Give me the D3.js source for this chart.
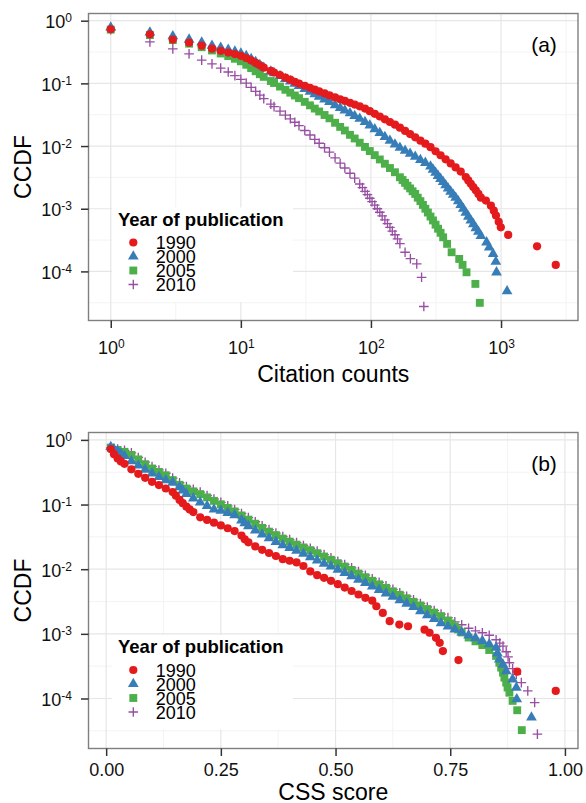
<!DOCTYPE html>
<html>
<head>
<meta charset="utf-8">
<title>CCDF of citation counts and CSS score</title>
<script src="https://d3js.org/d3.v7.min.js"></script>
<style>
  body, html { margin: 0; padding: 0; background: #fff; }
  svg { display: block; font-family: "Liberation Sans", Arial, Helvetica, sans-serif; }
</style>
</head>
<body>
<svg width="586" height="803"></svg>
<script>
const years = ["1990", "2000", "2005", "2010"];
const colors = ["#E41A1C", "#377EB8", "#4DAF4A", "#984EA3"];

// (a) citation counts -> CCDF
const citeRed = [[1,0.73],[2,0.605],[3,0.50],[4,0.445],[5,0.40],[6,0.357],[7,0.33],[8,0.31],[9,0.293],[10,0.275],[11,0.254],[12,0.232],[13,0.212],[14,0.194],[15,0.178],[17,0.158],[18,0.149],[20,0.136],[22,0.124],[24,0.1145],[26,0.106],[28,0.0993],[31,0.0916],[34,0.0851],[37,0.0794],[40,0.0745],[44,0.069],[48,0.0641],[53,0.0596],[58,0.0557],[63,0.0524],[69,0.0489],[75,0.0459],[82,0.043],[90,0.0396],[98,0.036],[107,0.0327],[117,0.0296],[128,0.0267],[140,0.0242],[153,0.0219],[167,0.0196],[183,0.0174],[200,0.0155],[219,0.0138],[240,0.0122],[262,0.0109],[287,0.0096],[314,0.00826],[343,0.00713],[375,0.00614],[410,0.00528],[448,0.00456],[490,0.00391],[536,0.0032],[560,0.00283],[586,0.0025],[612,0.00222],[640,0.00197],[670,0.00172],[700,0.0015],[765,0.00135],[836,0.00112],[880,0.00093],[914,0.00078],[960,0.00062],[996,0.000505],[1135,0.000382],[1892,0.000251],[2634,0.000127]];
const citeBlue = [[1,0.78],[2,0.65],[3,0.565],[4,0.50],[5,0.45],[6,0.40],[7,0.37],[8,0.345],[9,0.322],[10,0.30],[11,0.275],[12,0.245],[13,0.22],[14,0.197],[15,0.178],[17,0.155],[18,0.146],[20,0.131],[22,0.118],[24,0.108],[26,0.0989],[28,0.0912],[31,0.0817],[34,0.0738],[37,0.0673],[40,0.0616],[44,0.0556],[48,0.0504],[53,0.0449],[58,0.0405],[63,0.037],[69,0.0334],[75,0.0303],[82,0.0273],[90,0.0243],[98,0.0213],[107,0.0186],[117,0.0162],[128,0.014],[140,0.0122],[153,0.0106],[167,0.00942],[183,0.00845],[200,0.00757],[219,0.00675],[240,0.00602],[262,0.0054],[287,0.00474],[300,0.00422],[314,0.00375],[328,0.00335],[343,0.003],[359,0.00267],[375,0.00237],[392,0.00211],[410,0.00188],[429,0.00168],[448,0.0015],[469,0.00132],[490,0.00115],[513,0.001],[536,0.000867],[561,0.00075],[586,0.00065],[613,0.00057],[640,0.000492],[670,0.00043],[700,0.000367],[774,0.000291],[811,0.000242],[869,0.00019],[912,0.000143],[923,0.0000968],[1113,0.0000482]];
const citeGreen = [[1,0.72],[2,0.59],[3,0.49],[4,0.43],[5,0.378],[6,0.335],[7,0.30],[8,0.272],[9,0.247],[10,0.225],[11,0.198],[12,0.175],[13,0.156],[14,0.14],[15,0.127],[17,0.109],[18,0.1014],[20,0.0889],[22,0.079],[24,0.0711],[26,0.0641],[28,0.0581],[31,0.0507],[34,0.0446],[37,0.0396],[40,0.0356],[44,0.0313],[48,0.0277],[53,0.0235],[58,0.0202],[63,0.0177],[69,0.0151],[75,0.0132],[82,0.0113],[90,0.00968],[98,0.00832],[107,0.00716],[117,0.00611],[128,0.00522],[140,0.00446],[153,0.00382],[167,0.00318],[175,0.00287],[183,0.00259],[191,0.00233],[200,0.00211],[209,0.0019],[219,0.00172],[229,0.0015],[240,0.00132],[251,0.00115],[262,0.001],[274,0.00087],[287,0.00075],[300,0.00065],[314,0.000557],[328,0.00048],[343,0.000413],[359,0.00035],[385,0.000275],[417,0.000202],[477,0.000158],[506,0.000127],[543,0.0000968],[635,0.0000632],[687,0.0000315]];
const citePurple = [[1,0.72],[2,0.46],[3,0.355],[4,0.295],[5,0.235],[6,0.205],[7,0.175],[8,0.152],[9,0.133],[10,0.116],[11,0.101],[12,0.0865],[13,0.0745],[14,0.065],[15,0.057],[17,0.0466],[18,0.0425],[20,0.0361],[22,0.0312],[24,0.0272],[26,0.024],[28,0.0212],[31,0.0177],[34,0.015],[37,0.0128],[40,0.0111],[44,0.0094],[48,0.008],[53,0.00649],[58,0.00533],[63,0.00447],[69,0.00368],[75,0.00308],[82,0.00248],[86,0.00217],[90,0.00189],[94,0.00168],[98,0.00147],[102,0.0013],[107,0.00114],[112,0.001],[117,0.000877],[122,0.00077],[128,0.000663],[134,0.00058],[140,0.000503],[146,0.00044],[153,0.000384],[160,0.00033],[167,0.000277],[183,0.000202],[201,0.00016],[225,0.000132],[245,0.0000805],[255,0.0000275]];

// (b) CSS score -> CCDF
const cssRed = [[0.010,0.72],[0.017,0.6],[0.025,0.517],[0.032,0.465],[0.040,0.427],[0.055,0.35],[0.070,0.299],[0.085,0.259],[0.100,0.225],[0.115,0.2],[0.130,0.177],[0.145,0.156],[0.152,0.137],[0.160,0.118],[0.167,0.105],[0.175,0.0929],[0.182,0.084],[0.190,0.0764],[0.205,0.0635],[0.220,0.0577],[0.235,0.0525],[0.250,0.0475],[0.265,0.043],[0.280,0.0388],[0.295,0.0332],[0.302,0.029],[0.310,0.026],[0.325,0.0225],[0.340,0.0199],[0.355,0.0178],[0.370,0.016],[0.385,0.0143],[0.400,0.0135],[0.415,0.0127],[0.430,0.0112],[0.445,0.00923],[0.460,0.00809],[0.475,0.00735],[0.490,0.00662],[0.505,0.00587],[0.520,0.0052],[0.535,0.0046],[0.550,0.00406],[0.565,0.00361],[0.580,0.00326],[0.589,0.00267],[0.603,0.00211],[0.618,0.00157],[0.639,0.00139],[0.658,0.00131],[0.694,0.00116],[0.705,0.00104],[0.719,0.000867],[0.727,0.000726],[0.734,0.000541],[0.768,0.000393],[0.896,0.00026],[0.980,0.000131]];
const cssBlue = [[0.010,0.78],[0.017,0.72],[0.025,0.672],[0.032,0.615],[0.040,0.563],[0.055,0.47],[0.070,0.402],[0.085,0.348],[0.100,0.303],[0.115,0.268],[0.130,0.238],[0.145,0.219],[0.160,0.186],[0.167,0.165],[0.175,0.146],[0.190,0.125],[0.205,0.108],[0.220,0.0955],[0.235,0.0843],[0.250,0.0802],[0.265,0.0745],[0.280,0.0684],[0.295,0.0571],[0.302,0.0515],[0.310,0.0465],[0.325,0.0397],[0.340,0.0344],[0.355,0.0301],[0.370,0.0265],[0.385,0.0235],[0.400,0.0214],[0.415,0.0194],[0.430,0.0174],[0.445,0.0154],[0.460,0.0137],[0.475,0.0122],[0.490,0.011],[0.505,0.0098],[0.520,0.0088],[0.535,0.00783],[0.550,0.00692],[0.565,0.00612],[0.580,0.00543],[0.595,0.0048],[0.610,0.00424],[0.625,0.00376],[0.640,0.00332],[0.655,0.00294],[0.670,0.0026],[0.685,0.00225],[0.700,0.00195],[0.715,0.0017],[0.730,0.00147],[0.745,0.0013],[0.760,0.00117],[0.775,0.00105],[0.790,0.00095],[0.805,0.00086],[0.820,0.00078],[0.835,0.00069],[0.850,0.00061],[0.853,0.0005],[0.857,0.000402],[0.865,0.000333],[0.872,0.000266],[0.886,0.000198],[0.894,0.000147],[0.895,0.0000973],[0.927,0.0000508]];
const cssGreen = [[0.010,0.76],[0.025,0.70],[0.040,0.653],[0.055,0.585],[0.070,0.499],[0.085,0.421],[0.100,0.361],[0.115,0.32],[0.130,0.284],[0.145,0.239],[0.160,0.202],[0.175,0.177],[0.190,0.16],[0.205,0.145],[0.220,0.129],[0.235,0.114],[0.250,0.101],[0.265,0.0889],[0.280,0.0783],[0.295,0.0678],[0.310,0.0585],[0.325,0.0505],[0.340,0.0436],[0.355,0.0381],[0.370,0.0337],[0.385,0.0298],[0.400,0.0267],[0.415,0.024],[0.430,0.0217],[0.445,0.0197],[0.460,0.0177],[0.475,0.0157],[0.490,0.014],[0.505,0.0124],[0.520,0.011],[0.535,0.00975],[0.550,0.00855],[0.565,0.00753],[0.580,0.00662],[0.595,0.00583],[0.610,0.00515],[0.625,0.00455],[0.640,0.00402],[0.655,0.00355],[0.670,0.00313],[0.685,0.00275],[0.700,0.00242],[0.715,0.00213],[0.730,0.00188],[0.745,0.00161],[0.752,0.00145],[0.760,0.0013],[0.767,0.00117],[0.775,0.00105],[0.790,0.000877],[0.805,0.000766],[0.820,0.000671],[0.835,0.000562],[0.850,0.000455],[0.857,0.000357],[0.861,0.0003],[0.865,0.000251],[0.868,0.00021],[0.872,0.000176],[0.875,0.000148],[0.879,0.000123],[0.886,0.0000918],[0.896,0.0000658],[0.906,0.0000324]];
const cssPurple = [[0.010,0.75],[0.025,0.72],[0.040,0.69],[0.055,0.63],[0.070,0.535],[0.085,0.452],[0.100,0.387],[0.115,0.343],[0.130,0.305],[0.145,0.256],[0.160,0.217],[0.175,0.19],[0.190,0.172],[0.205,0.156],[0.220,0.138],[0.235,0.122],[0.250,0.108],[0.265,0.0954],[0.280,0.084],[0.295,0.0727],[0.310,0.0628],[0.325,0.0542],[0.340,0.0468],[0.355,0.0409],[0.370,0.0362],[0.385,0.032],[0.400,0.0287],[0.415,0.0258],[0.430,0.0233],[0.445,0.0211],[0.460,0.019],[0.475,0.0168],[0.490,0.015],[0.505,0.0133],[0.520,0.0118],[0.535,0.0105],[0.550,0.00917],[0.565,0.00808],[0.580,0.0071],[0.595,0.00626],[0.610,0.00553],[0.625,0.00488],[0.640,0.00431],[0.655,0.00381],[0.670,0.00336],[0.685,0.00295],[0.700,0.0026],[0.715,0.00229],[0.730,0.00202],[0.745,0.00178],[0.760,0.00153],[0.775,0.00138],[0.790,0.00122],[0.805,0.00111],[0.820,0.00104],[0.835,0.00095],[0.850,0.00081],[0.858,0.00072],[0.865,0.000646],[0.872,0.000528],[0.876,0.00044],[0.879,0.000357],[0.886,0.000289],[0.894,0.000236],[0.905,0.000176],[0.919,0.000131],[0.934,0.0000865],[0.940,0.0000281]];

// ticks
const citeTicks = [1, 10, 100, 1000];
const citeMinor = [3.162, 31.62, 316.2, 3162];
const ccdfTicks = [1, 0.1, 0.01, 0.001, 0.0001];
const ccdfMinor = [0.3162, 0.03162, 0.003162, 0.0003162, 0.00003162];
const cssTicks = [0, 0.25, 0.5, 0.75, 1];
const cssMinor = [0.125, 0.375, 0.625, 0.875];

const FONT = '"Liberation Sans", Arial, Helvetica, sans-serif';
const svg = d3.select("svg");

function markerPath(i) {
    if (i === 3) return "M-4.8,0H4.8M0,-4.8V4.8";
    const type = [d3.symbolCircle, d3.symbolTriangle, d3.symbolSquare][i];
    return d3.symbol().type(type).size([53, 50, 62][i])();
}

function styleMarker(sel, i) {
    if (i === 3) sel.attr("fill", "none").attr("stroke", colors[i]).attr("stroke-width", 1.35);
    else sel.attr("fill", colors[i]);
}

// 10 with a raised exponent
function powLabel(sel, d) {
    sel.text(null);
    sel.append("tspan").text("10");
    sel.append("tspan").attr("font-size", 12).attr("dy", -6).text(Math.round(Math.log10(d)));
}

function logDomain(vals) {
    const lo = Math.log10(d3.min(vals)), hi = Math.log10(d3.max(vals));
    const pad = (hi - lo) * 0.05;
    return [Math.pow(10, lo - pad), Math.pow(10, hi + pad)];
}

function drawPanel(p) {
    const {l, r, t, b} = p.box;
    const all = p.series.flat();
    const x = p.xLog
        ? d3.scaleLog().domain(logDomain(all.map(d => d[0]))).range([l, r])
        : (() => {
            const [lo, hi] = d3.extent(all, d => d[0]);
            const pad = (hi - lo) * 0.05;
            return d3.scaleLinear().domain([lo - pad, hi + pad]).range([l, r]);
        })();
    const y = d3.scaleLog().domain(logDomain(all.map(d => d[1]))).range([b, t]);

    const g = svg.append("g");

    // grid
    const grid = g.append("g");
    grid.selectAll(".xm").data(p.xMinor).join("line")
        .attr("x1", d => x(d)).attr("x2", d => x(d)).attr("y1", t).attr("y2", b)
        .attr("stroke", "#f3f3f3").attr("stroke-width", 1);
    grid.selectAll(".ym").data(ccdfMinor).join("line")
        .attr("y1", d => y(d)).attr("y2", d => y(d)).attr("x1", l).attr("x2", r)
        .attr("stroke", "#f3f3f3").attr("stroke-width", 1);
    grid.selectAll(".xM").data(p.xTicks).join("line")
        .attr("x1", d => x(d)).attr("x2", d => x(d)).attr("y1", t).attr("y2", b)
        .attr("stroke", "#e6e6e6").attr("stroke-width", 1.2);
    grid.selectAll(".yM").data(ccdfTicks).join("line")
        .attr("y1", d => y(d)).attr("y2", d => y(d)).attr("x1", l).attr("x2", r)
        .attr("stroke", "#e6e6e6").attr("stroke-width", 1.2);

    // points, 2010 first so 1990 ends up on top
    for (let i = 3; i >= 0; i--) {
        const path = markerPath(i);
        g.append("g").selectAll("path").data(p.series[i]).join("path")
            .attr("transform", d => `translate(${x(d[0])},${y(d[1])})`)
            .attr("d", path)
            .call(styleMarker, i);
    }

    // legend
    const ly = p.legendY;
    const lg = g.append("g");
    lg.append("rect").attr("x", 112).attr("y", ly - 18).attr("width", 181).attr("height", 94.5).attr("fill", "#fff");
    lg.append("text").attr("x", 118).attr("y", ly)
        .attr("font-weight", "bold").attr("font-size", 18.5).text("Year of publication");
    const rows = [17, 31, 45, 59];
    years.forEach((yr, i) => {
        lg.append("path").attr("transform", `translate(133.3,${ly + rows[i]})`)
            .attr("d", markerPath(i)).call(styleMarker, i);
        lg.append("text").attr("x", 155.7).attr("y", ly + rows[i] + 6.5)
            .attr("font-size", 18).text(yr);
    });

    // border
    g.append("rect").attr("x", l).attr("y", t).attr("width", r - l).attr("height", b - t)
        .attr("fill", "none").attr("stroke", "#7f7f7f").attr("stroke-width", 1.4);

    // axes
    const ya = g.append("g").attr("transform", `translate(${l},0)`)
        .call(d3.axisLeft(y).tickValues(ccdfTicks).tickSize(7.5).tickPadding(9));
    ya.select(".domain").remove();
    ya.attr("font-family", FONT).attr("font-size", 18).attr("color", "#333");
    ya.selectAll(".tick line").attr("stroke-width", 1.5);
    ya.selectAll(".tick text").attr("fill", "#111").attr("dy", 7).each(function(d) { powLabel(d3.select(this), d); });

    const xa = g.append("g").attr("transform", `translate(0,${b})`)
        .call(d3.axisBottom(x).tickValues(p.xTicks).tickSize(7.5));
    xa.select(".domain").remove();
    xa.attr("font-family", FONT).attr("font-size", 18).attr("color", "#333");
    xa.selectAll(".tick line").attr("stroke-width", 1.5);
    xa.selectAll(".tick text").attr("fill", "#111").attr("y", p.xLabelY).attr("dy", 0)
        .each(function(d) {
            if (p.xLog) powLabel(d3.select(this), d);
            else d3.select(this).text(d3.format(".2f")(d));
        });

    // titles
    g.append("text").attr("x", (l + r) / 2).attr("y", p.xTitleY)
        .attr("text-anchor", "middle").attr("font-size", 23).text(p.xTitle);
    g.append("text").attr("transform", `translate(31,${(t + b) / 2}) rotate(-90)`)
        .attr("text-anchor", "middle").attr("font-size", 23).text("CCDF");
    g.append("text").attr("x", r - 34).attr("y", t + 38.5)
        .attr("text-anchor", "middle").attr("font-size", 21).text(p.tag);
}

drawPanel({
    box: {l: 88.5, r: 578, t: 13.5, b: 320.5},
    series: [citeRed, citeBlue, citeGreen, citePurple],
    xLog: true, xTicks: citeTicks, xMinor: citeMinor,
    xLabelY: 33.5, xTitle: "Citation counts", xTitleY: 381.7,
    legendY: 225.5, tag: "(a)"
});

drawPanel({
    box: {l: 88.5, r: 578, t: 432.5, b: 748.5},
    series: [cssRed, cssBlue, cssGreen, cssPurple],
    xLog: false, xTicks: cssTicks, xMinor: cssMinor,
    xLabelY: 27.8, xTitle: "CSS score", xTitleY: 799.5,
    legendY: 653, tag: "(b)"
});
</script>
</body>
</html>
